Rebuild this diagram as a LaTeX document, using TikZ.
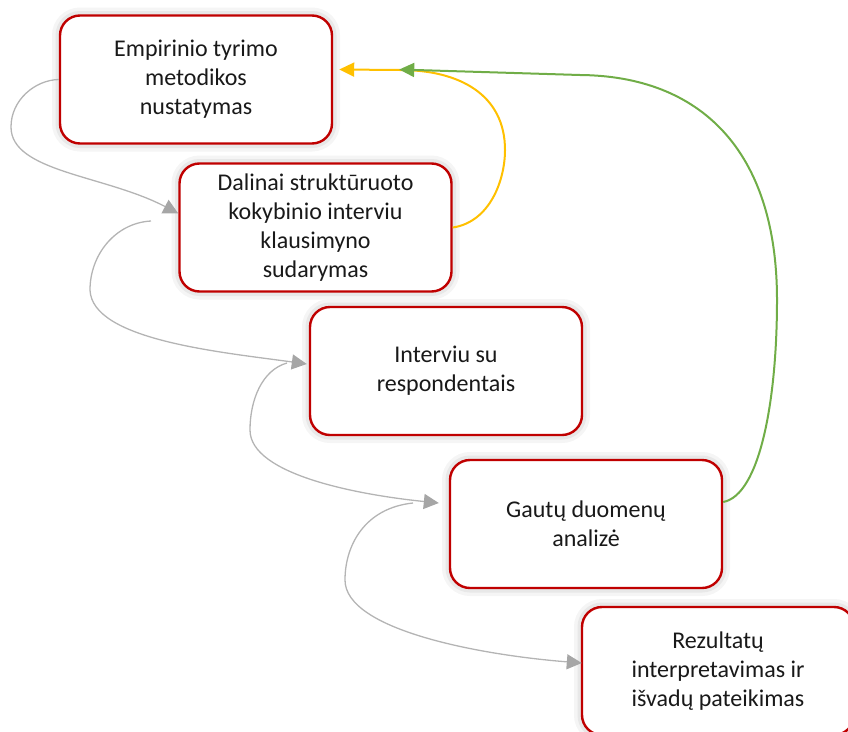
\documentclass[tikz,border=0pt]{standalone}
\usepackage{fontspec}
\setmainfont{Carlito}
\usetikzlibrary{arrows.meta}

\definecolor{boxred}{HTML}{C00000}
\definecolor{flowgray}{HTML}{B4B4B4}
\definecolor{tipgray}{HTML}{A6A6A6}
\definecolor{backyellow}{HTML}{FFC000}
\definecolor{backgreen}{HTML}{70AD47}

\begin{document}
\begin{tikzpicture}[x=1pt, y=-1pt,
    box/.style={rectangle, rounded corners=20pt, draw=boxred, line width=2.4pt, fill=white,
        minimum width=272pt, minimum height=128pt, align=center, text=black!90,
        font=\fontsize{24}{29}\selectfont,
        preaction={draw=black!4, line width=16pt},
        preaction={draw=black!9, line width=9pt}},
    flow/.style={draw=flowgray, line width=1.3pt, -{Triangle[length=15pt, width=15pt, color=tipgray]}},
    back/.style={line width=2pt, -{Triangle[length=15pt, width=14pt]}}]
    \useasboundingbox (0,0) rectangle (848,731);

    % Define node positions (top to bottom)
    \node[box] (Metodika) at (196, 79.5) {Empirinio tyrimo\\metodikos\\nustatymas};
    \node[box] (Klausimynas) at (315.5, 227.5) {Dalinai struktūruoto\\kokybinio interviu\\klausimyno\\sudarymas};
    \node[box] (Interviu) at (446, 371) {Interviu su\\respondentais};
    \node[box] (Analize) at (586, 524) {Gautų duomenų\\analizė};
    \node[box] (Rezultatai) at (718, 671) {Rezultatų\\interpretavimas ir\\išvadų pateikimas};

    % Free ends of the connectors
    \coordinate (s2) at (151, 221);
    \coordinate (s3) at (287, 363);
    \coordinate (s4) at (413, 503);

    % Draw edges
    \draw[flow] (Metodika.west) .. controls (35, 80) and (11, 100) .. (11, 127)
        .. controls (11, 172) and (105, 175) .. ([yshift=14pt]Klausimynas.west);
    \draw[flow] (s2) .. controls (115, 223) and (90, 255) .. (90, 290)
        .. controls (92, 340) and (220, 352) .. ([xshift=-2pt, yshift=7pt]Interviu.west);
    \draw[flow] (s3) .. controls (262, 370) and (250, 400) .. (250, 430)
        .. controls (250, 475) and (360, 495) .. ([xshift=-10pt, yshift=21pt]Analize.west);
    \draw[flow] (s4) .. controls (365, 508) and (345, 545) .. (345, 580)
        .. controls (345, 630) and (480, 655) .. ([xshift=1pt, yshift=8pt]Rezultatai.west);

    % Feedback edges
    \draw[back, backyellow] (Klausimynas.east) .. controls (490, 222) and (505, 180) .. (505, 150)
        .. controls (505, 95) and (460, 70) .. (400, 70) -- ([xshift=6pt, yshift=10pt]Metodika.east);
    \draw[back, backgreen] ([yshift=22pt]Analize.east) .. controls (760, 495) and (777, 400) .. (777, 300)
        .. controls (777, 150) and (700, 76) .. (580, 75) -- ([xshift=66pt, yshift=10pt]Metodika.east);
\end{tikzpicture}
\end{document}
